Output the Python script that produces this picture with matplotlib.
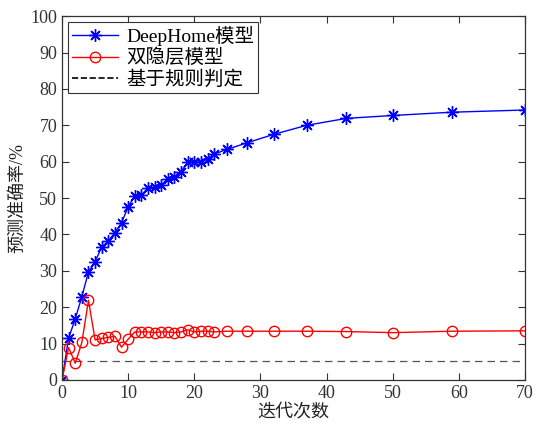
import matplotlib
matplotlib.use("Agg")
import matplotlib.pyplot as plt

plt.rcParams['font.family'] = ['Liberation Serif', 'Noto Sans CJK SC', 'DejaVu Sans']
plt.rcParams['axes.unicode_minus'] = False

# iterations and accuracy (%)
deephome_x = [0, 1, 2, 3, 4, 5, 6, 7, 8, 9, 10, 11, 12, 13, 14, 15, 16, 17, 18, 19,
              20, 21, 22, 23, 25, 28, 32, 37, 43, 50, 59, 70]
deephome_y = [0, 11.5, 16.8, 22.9, 29.7, 32.5, 36.5, 38.2, 40.5, 43.2, 47.6, 50.5,
              50.8, 52.8, 52.9, 53.5, 55.3, 55.8, 57.2, 59.9, 59.9, 59.9, 60.8, 62.1,
              63.4, 65.2, 67.5, 70.0, 71.9, 72.7, 73.6, 74.2]

hidden2_x = [0, 1, 2, 3, 4, 5, 6, 7, 8, 9, 10, 11, 12, 13, 14, 15, 16, 17, 18, 19,
             20, 21, 22, 23, 25, 28, 32, 37, 43, 50, 59, 70]
hidden2_y = [0, 8.9, 4.6, 10.3, 21.9, 11.0, 11.4, 11.7, 12.0, 9.0, 11.2, 13.2,
             13.2, 13.2, 13.0, 13.2, 13.2, 13.0, 13.2, 13.8, 13.2, 13.4, 13.4, 13.2,
             13.4, 13.4, 13.4, 13.4, 13.3, 13.0, 13.4, 13.5]

rule_level = 5.3

fig = plt.figure(figsize=(5.44, 4.25), dpi=100)
ax = fig.add_axes([0.114, 0.106, 0.851, 0.856])

ax.axhline(rule_level, color='#555555', linestyle='--', linewidth=0.9, dashes=(6, 4))
# MATLAB-style asterisk: 4 crossing strokes
ax.plot(deephome_x, deephome_y, color='blue', marker=(8, 2, 0), markersize=9,
        markeredgewidth=1.0, linewidth=1.0, label='DeepHome模型')
ax.plot(hidden2_x, hidden2_y, color='red', marker='o', markersize=7.5,
        markerfacecolor='none', linewidth=1.0, label='双隐层模型')
# legend proxy for the rule-based line (black in the legend)
ax.plot([], [], color='black', linestyle='--', linewidth=1.2, label='基于规则判定')

ax.set_xlim(0, 70)
ax.set_ylim(0, 100)
ax.set_xticks(range(0, 71, 10))
ax.set_yticks(range(0, 101, 10))
ax.tick_params(direction='in', top=True, right=True, labelsize=13,
               colors='#333333', length=5)
for s in ax.spines.values():
    s.set_color('#333333')
    s.set_linewidth(0.9)

ax.set_xlabel('迭代次数', fontsize=13, color='#222222', labelpad=1)
ax.set_ylabel('预测准确率/%', fontsize=13, color='#222222', labelpad=3)

leg = ax.legend(loc='upper left', fontsize=14, fancybox=False, framealpha=1,
                edgecolor='#333333', handlelength=2.4, borderpad=0.2,
                labelspacing=0.15, handletextpad=0.4, borderaxespad=0.3)
leg.get_frame().set_linewidth(0.8)

fig.savefig('out.png', dpi=100)
